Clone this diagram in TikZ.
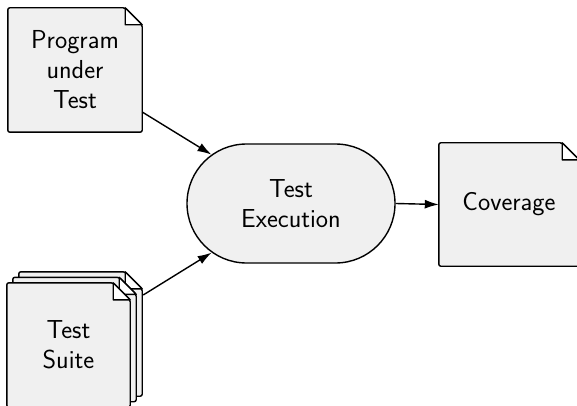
\documentclass[tikz,border=0pt]{standalone}
\usepackage{fontspec}
\usetikzlibrary{shapes.misc,backgrounds,arrows.meta}
\definecolor{paper}{HTML}{F0F0F0}
\tikzset{
  lbl/.style={font=\sffamily\fontsize{26}{30}\selectfont, align=center, inner sep=0pt},
  doc/.style={lbl, rectangle, draw=none},
  outline/.style={draw=black, line width=1.4pt, fill=paper, line join=round},
  proc/.style={lbl, rounded rectangle, draw=black, line width=1.4pt, fill=paper,
    minimum width=208pt, minimum height=119pt},
  flow/.style={draw=black, line width=1.4pt, -{Latex[length=14pt,width=9pt]}},
}
% folded-corner page drawn around the box of node #1, moved by #2 right and #3 up
\newcommand\pageoutline[3]{%
  \path[outline, rounded corners=2pt]
    ([xshift=#2,yshift=#3]#1.north west) -- ([xshift=#2-17pt,yshift=#3]#1.north east)
    -- ([xshift=#2,yshift=#3-17pt]#1.north east) -- ([xshift=#2,yshift=#3]#1.south east)
    -- ([xshift=#2,yshift=#3]#1.south west) -- cycle;
  \path[outline, fill=white]
    ([xshift=#2-17pt,yshift=#3]#1.north east) -- ([xshift=#2-17pt,yshift=#3-17pt]#1.north east)
    -- ([xshift=#2,yshift=#3-17pt]#1.north east) -- cycle;
}
\begin{document}
\begin{tikzpicture}[x=1pt,y=-1pt]
  \useasboundingbox (0,0) rectangle (577,406);

  \node[doc, minimum width=134pt, minimum height=124pt] (prog) at (75,70) {Program\\under\\Test};
  \node[doc, minimum width=123pt, minimum height=124pt] (suite) at (68.5,345) {Test\\Suite};
  \node[doc, minimum width=140pt, minimum height=123pt] (cov) at (509,204.5) {Coverage};
  \node[proc] (exec) at (291,203.5) {Test\\Execution};

  \begin{scope}[on background layer]
    \pageoutline{prog}{0pt}{0pt}
    \pageoutline{suite}{12pt}{11pt}
    \pageoutline{suite}{6pt}{5.5pt}
    \pageoutline{suite}{0pt}{0pt}
    \pageoutline{cov}{0pt}{0pt}
  \end{scope}

  \coordinate (progout) at ([yshift=-42pt]prog.east);
  \coordinate (suiteout) at ([xshift=13pt,yshift=50pt]suite.east);
  \draw[flow] (progout) -- (exec);
  \draw[flow] (suiteout) -- (exec);
  \draw[flow] (exec.east) -- (cov.west);
\end{tikzpicture}
\end{document}
